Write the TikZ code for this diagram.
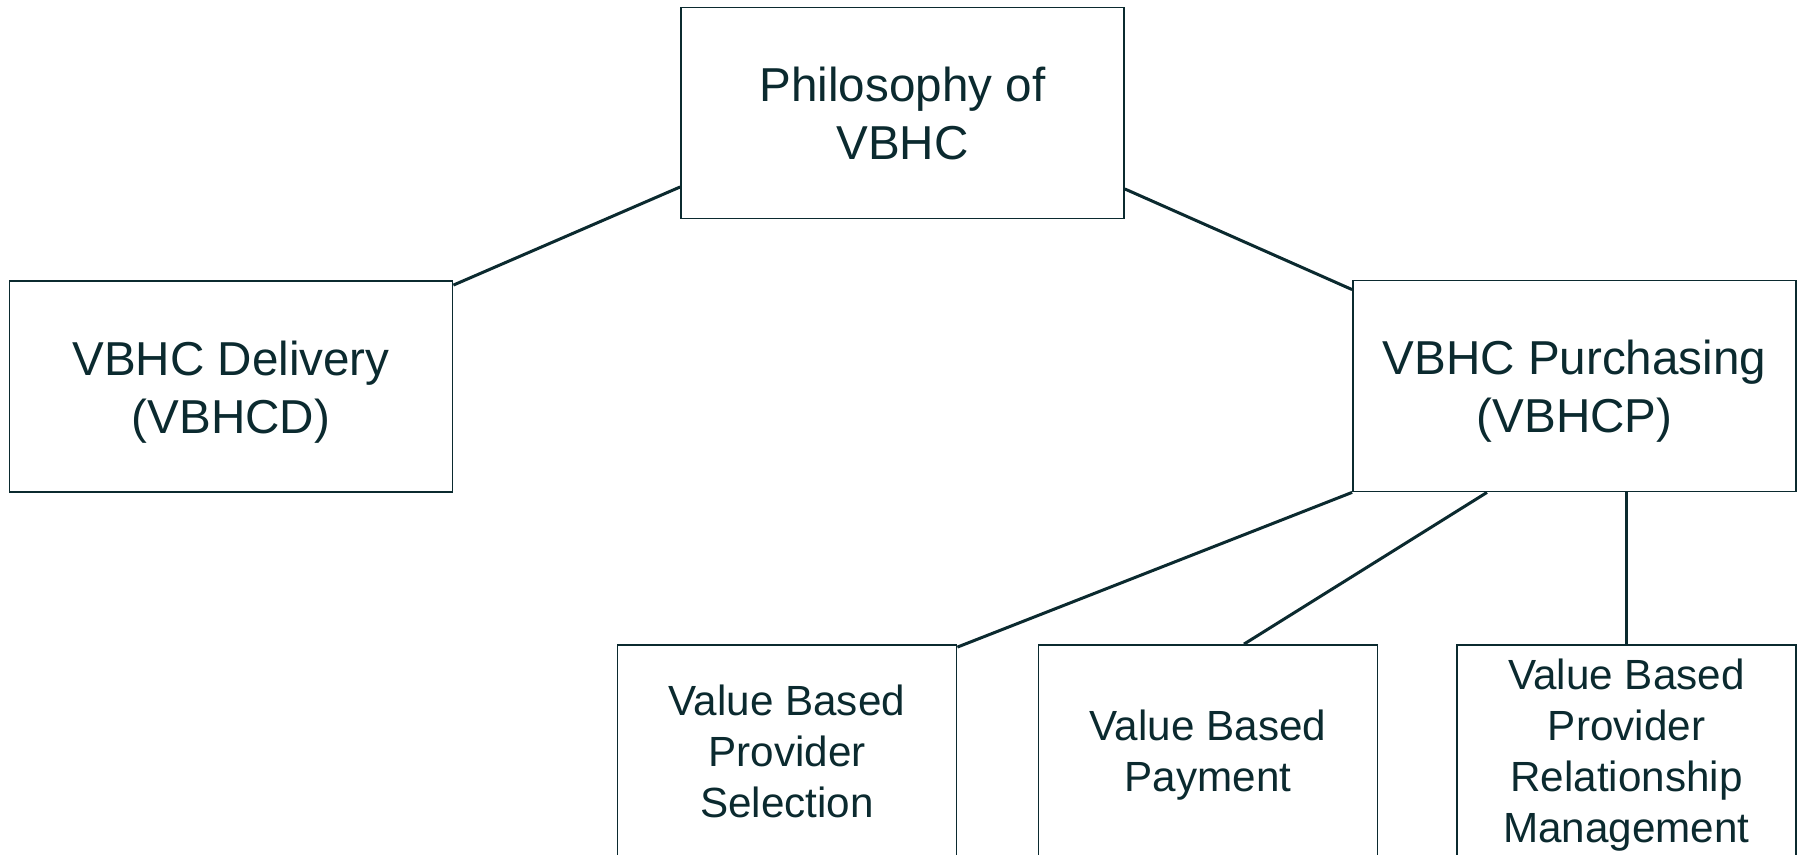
\documentclass[tikz,border=0pt]{standalone}
\usepackage{fontspec}
\setmainfont{Liberation Sans}
\definecolor{ink}{HTML}{0B2A2F}
\newcommand{\bigln}{\rule[-5.5pt]{0pt}{29pt}}
\newcommand{\smln}{\rule[-4.85pt]{0pt}{25.5pt}}
\tikzset{
  bigbox/.style={draw=ink, line width=0.9pt, fill=white, minimum width=221.5pt, minimum height=105.5pt, inner sep=0pt, align=center, text=ink, font=\fontsize{23.8pt}{29pt}\selectfont},
  smbox/.style={draw=ink, line width=0.9pt, fill=white, minimum width=169.5pt, minimum height=105.5pt, inner sep=0pt, align=center, text=ink, font=\fontsize{21.1pt}{25.5pt}\selectfont},
  link/.style={draw=ink, line width=1.5pt}
}
\begin{document}
\begin{tikzpicture}[x=0.5pt, y=-0.5pt]
\useasboundingbox (0,0) rectangle (1801,855);
\fill[white] (0,0) rectangle (1801,855);
\clip (0,0) rectangle (1801,855);
% boxes
\node[bigbox] (phil) at (902.5,113) {\bigln Philosophy of\\\bigln VBHC};
\node[bigbox] (deliv) at (231,386.5) {\bigln VBHC Delivery\\\bigln (VBHCD)};
\node[bigbox] (purch) at (1574.5,386) {\bigln VBHC Purchasing\\\bigln (VBHCP)};
\node[smbox] (sel) at (787,750.5) {\smln Value Based\\\smln Provider\\\smln Selection};
\node[smbox] (pay) at (1208,750.5) {\smln Value Based\\\smln Payment};
\node[smbox] (rel) at (1626.5,750.5) {\smln Value Based\\\smln Provider\\\smln Relationship\\\smln Management};
% connectors
\draw[link] ([yshift=-37pt]phil.west) -- ([yshift=-2.5pt]deliv.north east);
\draw[link] ([yshift=-38pt]phil.east) -- ([yshift=-5pt]purch.north west);
\draw[link] (purch.south west) -- ([yshift=-1.5pt]sel.north east);
\draw[link] ([xshift=-43.75pt]purch.south) -- ([xshift=18pt]pay.north);
\draw[link] (rel.north) -- (rel.north |- purch.south);
\end{tikzpicture}
\end{document}
